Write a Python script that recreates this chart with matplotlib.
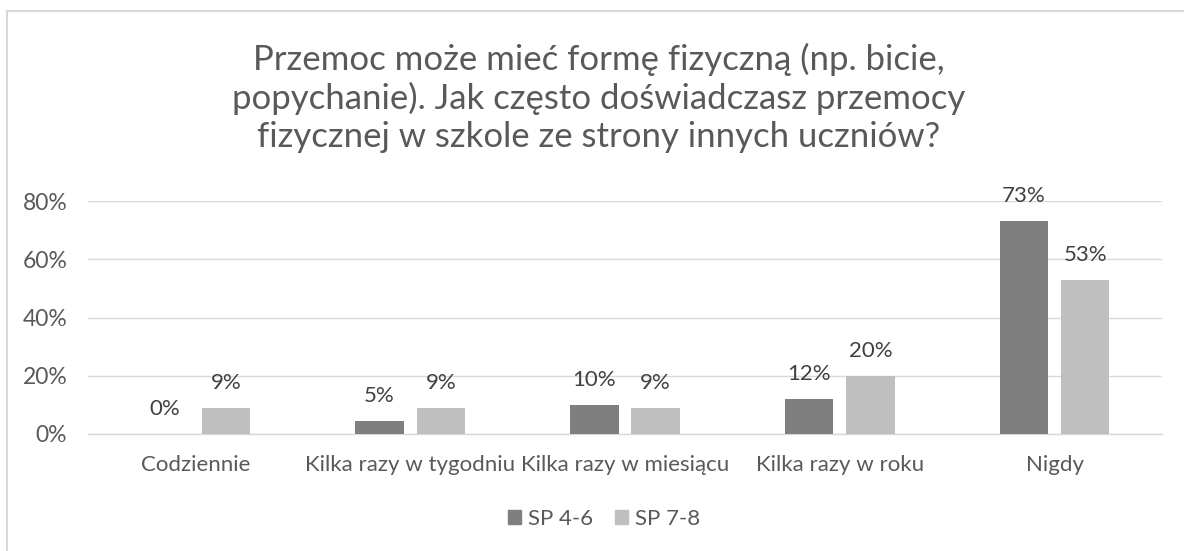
import matplotlib
matplotlib.use("Agg")
import matplotlib.pyplot as plt
from matplotlib.patches import Patch, Rectangle
import numpy as np

plt.rcParams['font.family'] = ['Lato', 'DejaVu Sans']

categories = ['Codziennie', 'Kilka razy w tygodniu', 'Kilka razy w miesiącu',
              'Kilka razy w roku', 'Nigdy']
sp46 = [0.0, 0.046, 0.10, 0.12, 0.73]
sp78 = [0.088, 0.088, 0.088, 0.20, 0.53]
series_names = ['SP 4-6', 'SP 7-8']
yticks = [0, 0.2, 0.4, 0.6, 0.8]
title = ('Przemoc może mieć formę fizyczną (np. bicie,\n'
         'popychanie). Jak często doświadczasz przemocy\n'
         'fizycznej w szkole ze strony innych uczniów?')

W, H = 1184, 551
fig = plt.figure(figsize=(W / 100, H / 100), dpi=100, facecolor='white')

# chart border (only left/top visible in the crop)
fig.patches.append(Rectangle((7 / W, -0.05), 1.2, 1 - 11 / H + 0.05,
                             transform=fig.transFigure, fill=False,
                             edgecolor='#d9d9d9', linewidth=1.5))

ax = fig.add_axes([88 / W, 1 - 434 / H, (1162 - 88) / W, (434 - 201) / H])

dark = '#7f7f7f'
light = '#bfbfbf'
x = np.arange(len(categories))
bw = 0.225
off = 0.1425
b1 = ax.bar(x - off, sp46, bw, color=dark, label=series_names[0], zorder=3)
b2 = ax.bar(x + off, sp78, bw, color=light, label=series_names[1], zorder=3)

for bars, vals in ((b1, sp46), (b2, sp78)):
    for rect, v in zip(bars, vals):
        ax.annotate(f'{v * 100:.0f}%', (rect.get_x() + rect.get_width() / 2, v),
                    xytext=(0, 18), textcoords='offset points',
                    ha='center', va='center', fontsize=16, color='#404040',
                    zorder=4)

ax.set_xlim(-0.5, len(categories) - 0.5)
ax.set_ylim(0, 0.8)
ax.set_yticks(yticks)
ax.set_yticklabels([f'{t * 100:.0f}%' for t in yticks])
ax.set_xticks(x)
ax.set_xticklabels(categories)
ax.tick_params(axis='y', length=0, pad=15, labelsize=16.5, labelcolor='#595959')
ax.tick_params(axis='x', length=0, pad=15, labelsize=16, labelcolor='#595959')
ax.grid(axis='y', color='#d9d9d9', linewidth=1, zorder=0)
for s in ('top', 'right', 'left'):
    ax.spines[s].set_visible(False)
ax.spines['bottom'].set_color('#d9d9d9')
ax.spines['bottom'].set_linewidth(1)
ax.spines['bottom'].set_zorder(2)

fig.text(599 / W, 1 - 98 / H, title, ha='center', va='center',
         fontsize=25, color='#595959', linespacing=1.22)

handles = [Patch(color=dark), Patch(color=light)]
fig.legend(handles, series_names, loc='center', bbox_to_anchor=(604 / W, 1 - 519 / H),
           ncol=2, frameon=False, fontsize=16, labelcolor='#595959',
           handlelength=0.6, handleheight=0.6, handletextpad=0.3, columnspacing=1.0)

fig.savefig('out.png', dpi=100, facecolor='white')
